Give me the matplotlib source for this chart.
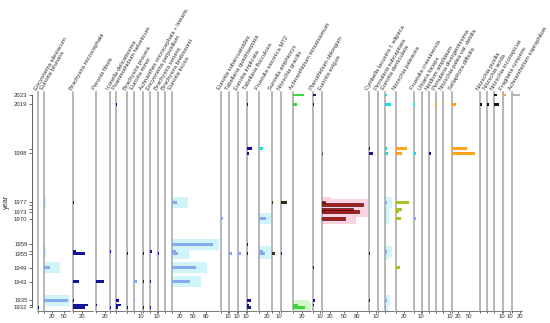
import matplotlib
matplotlib.use('Agg')
import matplotlib.pyplot as plt

plt.rcParams['font.family'] = ['Liberation Sans', 'DejaVu Sans']

# sample years (y axis) and the subset that gets a printed label
sample_years = [2023, 2019, 2000, 1998, 1977, 1976, 1974, 1973, 1970,
                1959, 1956, 1955, 1949, 1943, 1935, 1933, 1932]
label_years = [2023, 2019, 1998, 1977, 1973, 1970, 1959, 1955, 1949, 1943, 1935, 1932]

taxa = [
    "Encyonema silesiacum", "Eunotia bilunaris", "Brachysira microcephala",
    "Peronia fibula", "Iconella delicatissima", "Psammothidium helveticum",
    "Brachysira procera", "Eunotia minor", "Achnanthes microcephala + linearis",
    "Encyonema perpusillum", "Brachysira serians", "Brachysira brebissonii",
    "Eunotia incisa", "Eunotia subarcuatoides", "Tabellaria quadriseptata",
    "Eunotia implicata", "Tabellaria flocculosa", "Frustulia saxonica MT2",
    "Surirella amphioxys", "Nitzschia gracilis", "Achnanthidium minutissimum",
    "Planothidium oblongum", "Eunotia exigua", "Cymbella lacustris f. elliptica",
    "Pinnularia subcapitata", "Eunotia denticulata", "Nitzschia paleacea",
    "Frustulia crassinervia", "Ulnaria biceps", "Neidium ampliatum",
    "Pinnularia divergentissima", "Nitzschia palea var. debilis",
    "Sellaphora difficilis", "Nitzschia pusilla", "Nitzschia acida",
    "Nitzschia inconspicua", "Fragilaria rumpens", "Achnanthidium saprophilum",
]

# relative abundance (%) per taxon, keyed by sample year
values = {
    "Encyonema silesiacum": {1932: 0.6},
    "Eunotia bilunaris": {1977: 1, 1956: 1, 1949: 13, 1935: 60},
    "Brachysira microcephala": {1977: 0.5, 1956: 7, 1955: 29, 1943: 14, 1935: 2, 1933: 36, 1932: 29},
    "Peronia fibula": {1943: 19, 1933: 2},
    "Iconella delicatissima": {1956: 0.6, 1932: 0.6},
    "Psammothidium helveticum": {2019: 0.6, 1935: 3.3, 1933: 6, 1932: 2.2},
    "Brachysira procera": {1955: 1, 1932: 0.5},
    "Eunotia minor": {1943: 4, 1935: 1},
    "Achnanthes microcephala + linearis": {1955: 0.8, 1943: 0.8, 1932: 0.8},
    "Encyonema perpusillum": {1956: 3, 1943: 1, 1932: 1},
    "Brachysira serians": {1955: 0.8},
    "Brachysira brebissonii": {1955: 0.8},
    "Eunotia incisa": {2019: 0.5, 1998: 0.5, 1977: 13, 1959: 97, 1956: 10, 1955: 15, 1949: 57, 1943: 43},
    "Eunotia subarcuatoides": {1970: 4, 1955: 1, 1935: 1},
    "Tabellaria quadriseptata": {1955: 4},
    "Eunotia implicata": {1955: 4},
    "Tabellaria flocculosa": {2019: 0.5, 2000: 6, 1998: 2, 1959: 1, 1955: 1, 1935: 5, 1933: 2.5, 1932: 5},
    "Frustulia saxonica MT2": {2000: 9, 1977: 0.5, 1970: 17, 1956: 11, 1955: 15, 1949: 0.5},
    "Surirella amphioxys": {1977: 0.5, 1955: 4},
    "Nitzschia gracilis": {1977: 7, 1955: 1},
    "Achnanthidium minutissimum": {2023: 24, 2019: 10, 1955: 0.5, 1933: 12, 1932: 27},
    "Planothidium oblongum": {2023: 4, 2019: 1, 1949: 1.5, 1935: 2, 1933: 1},
    "Eunotia exigua": {1998: 1, 1977: 7, 1976: 95, 1974: 71, 1973: 86, 1970: 53},
    "Cymbella lacustris f. elliptica": {2000: 1, 1998: 4.7, 1955: 0.7, 1935: 1},
    "Pinnularia subcapitata": {1977: 0.6},
    "Eunotia denticulata": {2023: 1.9, 2019: 7, 2000: 1.9, 1998: 3.7, 1977: 2.6, 1974: 1.5,
                            1973: 1.1, 1970: 1.5, 1956: 2.6, 1955: 1.5, 1935: 1.9, 1932: 1.1},
    "Nitzschia paleacea": {2000: 27, 1998: 15, 1977: 32, 1974: 15, 1973: 9, 1970: 13, 1949: 11},
    "Frustulia crassinervia": {2019: 2, 1998: 3, 1977: 0.5, 1970: 3, 1959: 0.5, 1949: 0.5},
    "Ulnaria biceps": {2000: 0.4, 1977: 0.4},
    "Neidium ampliatum": {1998: 1.2},
    "Pinnularia divergentissima": {2019: 0.8},
    "Nitzschia palea var. debilis": {2019: 0.7},
    "Sellaphora difficilis": {2019: 13, 2000: 46, 1998: 69},
    "Nitzschia pusilla": {2019: 1.7},
    "Nitzschia acida": {2019: 1.2},
    "Nitzschia inconspicua": {2023: 3.4, 2019: 6},
    "Fragilaria rumpens": {2023: 3.3, 2019: 0.7},
    "Achnanthidium saprophilum": {2023: 20},
}

# colour code per taxon: before 1990 / from 1990 on
colour_old = ["N", "L", "N", "N", "N", "N", "N", "L", "N", "N", "N", "L", "L", "L", "L", "L",
              "N", "L", "D", "D", "G", "N", "R", "N", "L", "L", "O", "L", "Y", "N", "A", "Y",
              "A", "K", "K", "K", "A", "Y"]
colour_new = ["N", "L", "N", "N", "N", "N", "N", "L", "N", "N", "N", "L", "L", "L", "L", "L",
              "N", "C", "D", "D", "G", "N", "R", "N", "L", "C", "A", "C", "Y", "N", "A", "Y",
              "A", "K", "K", "K", "A", "Y"]
exaggerated = {"Eunotia bilunaris", "Eunotia incisa", "Frustulia saxonica MT2",
               "Achnanthidium minutissimum", "Eunotia exigua", "Eunotia denticulata"}

palette = {"N": "#14149b", "L": "#86aaf0", "C": "#19dede", "G": "#3cd63c", "R": "#aa1c1c",
           "O": "#a9bf22", "A": "#ffa41f", "K": "#151515", "D": "#2e2e14", "Y": "#b3b3b3"}
halo_colour = {"L": "#cff5fb", "C": "#cff5fb", "R": "#fbd2df", "G": "#d5f4cb"}

# layout in pixels: left edge, width, axis max and labelled ticks for each column
col_x = [37.7, 44.3, 73.3, 96, 110, 116, 127.3, 134, 142.7, 150, 158.3, 165, 171.7,
         220.7, 229.3, 238.3, 247.3, 259, 272.3, 281, 292.7, 313.3, 321.7, 369.3, 377.7,
         385, 395.7, 414, 422, 429.3, 436, 443.3, 451.7, 480, 487.3, 494, 503.3, 511.7]
col_w = [5, 26, 20, 12, 4.5, 9, 5.5, 7, 6, 7, 5.5, 5.5, 47, 7, 7.5, 7.5, 10, 12, 7, 10,
         18, 7, 46, 7, 6, 9, 16, 6.5, 6, 5.5, 6, 7, 27, 6, 5.5, 8, 7, 10]
col_max = [3, 65, 48, 28, 3, 10, 6, 10, 5, 10, 5, 5, 110, 10, 10, 10, 12, 30, 10, 12,
           40, 10, 105, 10, 5, 10, 40, 10, 5, 5, 5, 10, 80, 5, 5, 10, 10, 24]
col_ticks = [[], [20, 50], [20], [20], [], [], [], [10], [], [10], [], [], [20, 50, 80],
             [10], [10], [10], [], [20], [10], [], [20], [10], [20, 50, 80], [10], [], [],
             [20], [10], [], [], [], [10], [20, 50], [], [], [10], [10], [20]]

W, H = 550, 323
top_px, bot_px = 92, 311
px_per_year = 2.333
y_hi = 2023 + (95 - top_px) / px_per_year
y_lo = 1932 - (bot_px - 307.3) / px_per_year

fig = plt.figure(figsize=(W / 100, H / 100), dpi=100)


def add_col_axes(x, w):
    return fig.add_axes([x / W, 1 - bot_px / H, w / W, (bot_px - top_px) / H])


# year axis on the left
ax_y = add_col_axes(32.3, 0.5)
ax_y.set_ylim(y_lo, y_hi)
for s in ['top', 'right', 'bottom']:
    ax_y.spines[s].set_visible(False)
ax_y.spines['left'].set_linewidth(0.6)
ax_y.spines['left'].set_color('#444444')
ax_y.spines['left'].set_bounds(1932, 2023)
ax_y.set_xticks([])
ax_y.set_yticks(sample_years)
ax_y.set_yticklabels([str(y) if y in label_years else '' for y in sample_years])
ax_y.tick_params(axis='y', length=2.5, width=0.5, labelsize=4.3, pad=1, colors='#333333')
ax_y.set_ylabel('year', fontsize=5.3, labelpad=3, color='#333333')
ax_y.patch.set_visible(False)

for i, name in enumerate(taxa):
    ax = add_col_axes(col_x[i], col_w[i])
    ax.set_xlim(0, col_max[i])
    ax.set_ylim(y_lo, y_hi)
    ax.patch.set_visible(False)
    for s in ['top', 'right', 'left']:
        ax.spines[s].set_visible(False)
    ax.spines['bottom'].set_linewidth(0.5)
    ax.spines['bottom'].set_color('#444444')
    ax.axvline(0, color='#a3a3a3', lw=1.1, zorder=1, clip_on=False)

    data = values[name]
    yrs = list(data)
    vals = [data[y] for y in yrs]
    cols = [palette[colour_new[i]] if y >= 1990 else palette[colour_old[i]] for y in yrs]

    if name in exaggerated:
        old = [y for y in yrs if y < 1990]
        halo = [min(3 * data[y], data[y] + 25, col_max[i]) for y in old]
        ax.barh(old, halo, height=4.5, color=halo_colour[colour_old[i]], lw=0, zorder=0.5)

    if colour_old[i] == "R":
        ax.barh(yrs, vals, height=1.3, color=cols, edgecolor='#2a0000', lw=0.4, zorder=3)
    else:
        ax.barh(yrs, vals, height=1.1, color=cols, lw=0, zorder=3)

    ax.set_yticks([])
    ax.set_xticks([0] + col_ticks[i])
    ax.set_xticklabels([''] + [str(t) for t in col_ticks[i]])
    ax.tick_params(axis='x', length=1.5, width=0.5, labelsize=4.2, pad=0.5, colors='#333333')

    ax.annotate(name, xy=(0, 1), xycoords='axes fraction', xytext=(0, 1),
                textcoords='offset points', rotation=60, rotation_mode='anchor',
                ha='left', va='bottom', fontsize=4.2, color='#333333')

fig.savefig('out.png', dpi=100)
